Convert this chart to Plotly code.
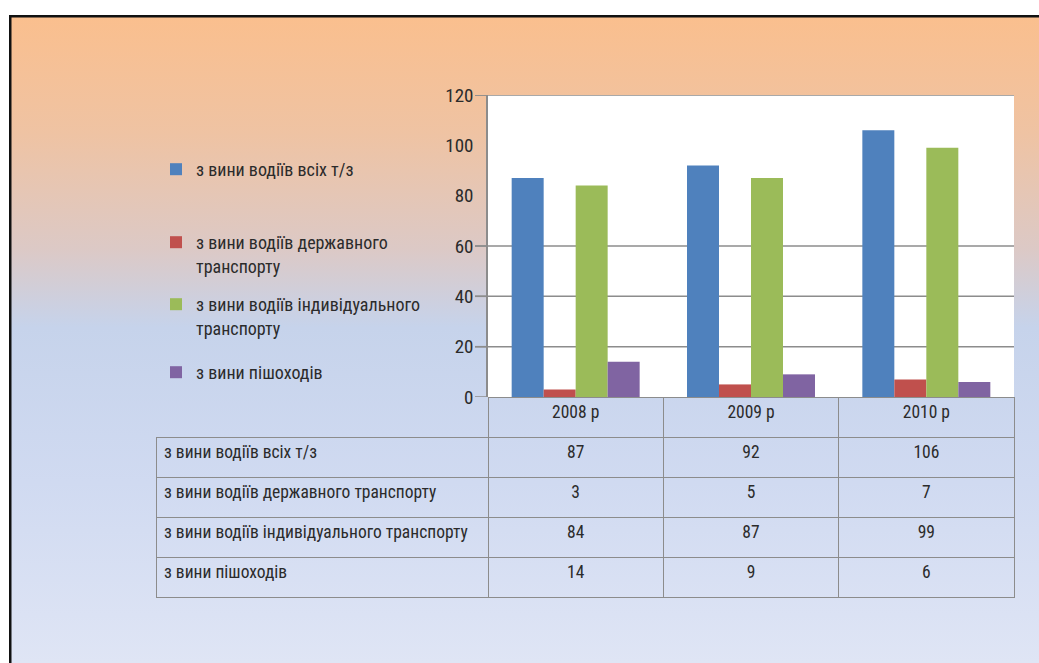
import base64
import plotly.graph_objects as go

# ---------------- data ----------------
categories = ["2008 р", "2009 р", "2010 р"]
series_names = [
    "з вини водіїв всіх т/з",
    "з вини водіїв державного транспорту",
    "з вини водіїв індивідуального транспорту",
    "з вини пішоходів",
]
legend_labels = [
    "з вини водіїв всіх т/з",
    "з вини водіїв державного<br>транспорту",
    "з вини водіїв індивідуального<br>транспорту",
    "з вини пішоходів",
]
all_drivers = [87, 92, 106]
state_transport = [3, 5, 7]
private_transport = [84, 87, 99]
pedestrians = [14, 9, 6]
series_values = [all_drivers, state_transport, private_transport, pedestrians]

y_tick_values = [0, 20, 40, 60, 80, 100, 120]
grid_values = [20, 40, 60, 120]
tick_mark_values = [0, 20, 40, 60, 120]

# ---------------- style ----------------
colors = ["#4F81BD", "#C0504D", "#9BBB59", "#8064A2"]
FONT = "Liberation Sans Narrow, Roboto Condensed, DejaVu Sans Condensed, Arial Narrow, sans-serif"
TEXT = "#2b2b2b"
LINE = "#8c8c8c"
W, H = 1039, 663

# background: white strip, frame lines and vertical gradient (pixel coords)
svg = f"""<svg xmlns='http://www.w3.org/2000/svg' width='{W}' height='{H}' viewBox='0 0 {W} {H}' preserveAspectRatio='none'>
<defs><linearGradient id='g' x1='0' y1='0' x2='0' y2='1'>
<stop offset='0' stop-color='#FABF8E'/>
<stop offset='0.18' stop-color='#EFC3A3'/>
<stop offset='0.36' stop-color='#DCC9C6'/>
<stop offset='0.48' stop-color='#C6D3EB'/>
<stop offset='0.72' stop-color='#D0DAF1'/>
<stop offset='1' stop-color='#DFE5F5'/>
</linearGradient></defs>
<rect x='0' y='0' width='{W}' height='{H}' fill='white'/>
<rect x='11' y='17' width='{W-11}' height='{H-17}' fill='url(#g)'/>
<rect x='9' y='15' width='{W-9}' height='2.5' fill='#111'/>
<rect x='9' y='15' width='2.5' height='{H-15}' fill='#111'/>
</svg>"""
bg_uri = "data:image/svg+xml;base64," + base64.b64encode(svg.encode("utf-8")).decode("ascii")

# geometry given in window pixels -> paper fractions
def px(x):
    return x / W

def py(y):
    return 1 - y / H

plot_left, plot_right, plot_top, plot_bottom = 488, 1014, 95, 397
table_left, table_bottom = 156, 597

fig = go.Figure()

legend_names = ["legend", "legend2", "legend3", "legend4"]
for name, label, vals, col, lg in zip(series_names, legend_labels, series_values, colors, legend_names):
    fig.add_trace(go.Bar(
        x=categories, y=vals, name=label, marker=dict(color=col, line=dict(width=0)),
        legend=lg, hovertext=[name] * len(vals),
    ))

# data table under the chart
table_cols = [series_names] + [[vals[i] for vals in series_values] for i in range(len(categories))]
fig.add_trace(go.Table(
    domain=dict(x=[px(table_left), px(plot_right)], y=[py(table_bottom + 8), py(plot_bottom)]),
    columnwidth=[plot_left - table_left] + [(plot_right - plot_left) / 3] * 3,
    header=dict(
        values=[""] + categories,
        fill=dict(color="rgba(0,0,0,0)"),
        line=dict(color=["rgba(0,0,0,0)", LINE, LINE, LINE], width=1),
        align="center", height=40,
        font=dict(family=FONT, size=17.5, color=TEXT),
    ),
    cells=dict(
        values=table_cols,
        fill=dict(color="rgba(0,0,0,0)"),
        line=dict(color=LINE, width=1),
        align=["left", "center", "center", "center"], height=40,
        font=dict(family=FONT, size=17.5, color=TEXT),
    ),
))

shapes = [dict(type="rect", xref="x domain", yref="y domain", x0=0, x1=1, y0=0, y1=1,
               fillcolor="white", line=dict(width=0), layer="below")]
tick_ext = 13 / (plot_right - plot_left)
for v in grid_values:
    shapes.append(dict(type="line", xref="x domain", yref="y", x0=-tick_ext, x1=1, y0=v, y1=v,
                       line=dict(color=LINE, width=1.5), layer="below"))
for v in tick_mark_values:
    shapes.append(dict(type="line", xref="x domain", yref="y", x0=-tick_ext, x1=0, y0=v, y1=v,
                       line=dict(color=LINE, width=1.5), layer="below"))

legend_y = [170, 243, 305, 373]
legends = {}
for lg, yy in zip(legend_names, legend_y):
    legends[lg] = dict(
        x=px(156), y=py(yy - 19), xanchor="left", yanchor="top",
        bgcolor="rgba(0,0,0,0)", borderwidth=0, valign="top",
        font=dict(family=FONT, size=18, color=TEXT),
        itemclick=False, itemdoubleclick=False,
    )

fig.update_layout(
    width=W, height=H, margin=dict(l=0, r=0, t=0, b=0, pad=0, autoexpand=False),
    paper_bgcolor="white", plot_bgcolor="rgba(0,0,0,0)",
    font=dict(family=FONT, size=18, color=TEXT),
    barmode="group", bargap=0.27, bargroupgap=0,
    showlegend=True,
    xaxis=dict(domain=[px(plot_left), px(plot_right)], showticklabels=False, showgrid=False,
               zeroline=False, showline=False, ticks="", automargin=False),
    yaxis=dict(domain=[py(plot_bottom), py(plot_top)], range=[0, 120], tickvals=y_tick_values,
               showgrid=False, zeroline=False, showline=True, linecolor=LINE, linewidth=1.5,
               ticks="", ticklabelstandoff=9, automargin=False,
               tickfont=dict(family=FONT, size=19, color=TEXT)),
    images=[dict(source=bg_uri, xref="paper", yref="paper", x=0, y=1, sizex=1, sizey=1,
                 xanchor="left", yanchor="top", sizing="stretch", layer="below")],
    shapes=shapes,
    **legends,
)

fig.write_html(
    "out.html",
    config={"displayModeBar": False},
    post_script="document.body.style.margin='0';document.body.style.overflow='hidden';",
)
